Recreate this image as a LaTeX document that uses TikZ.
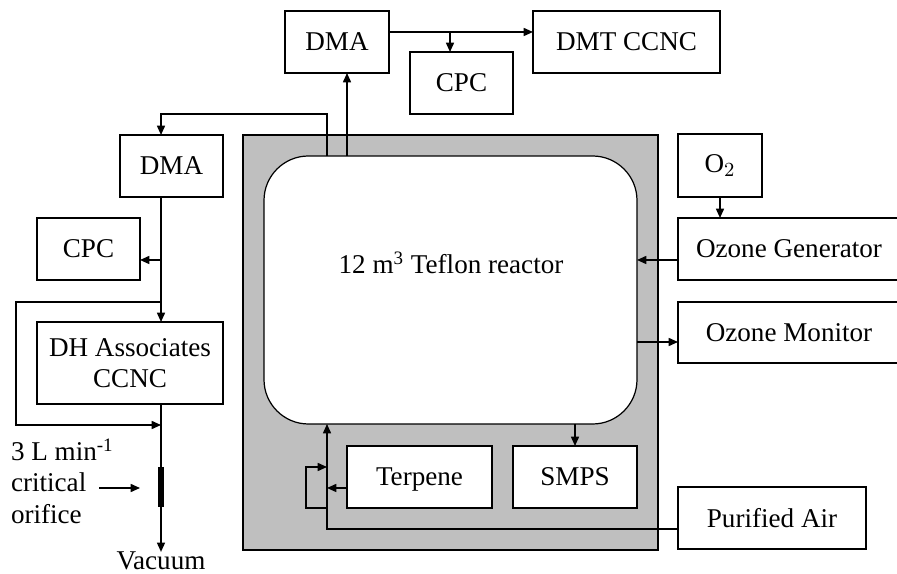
\documentclass[tikz,border=0pt]{standalone}
\usepackage{fontspec}
\setmainfont{Liberation Serif}
\usetikzlibrary{arrows.meta, positioning}
\newlength\px
\setlength\px{0.45pt}

\begin{document}
\begin{tikzpicture}[x=0.45pt, y=-0.45pt,
    every node/.style={font=\fontsize{12.2}{14}\selectfont, inner sep=0pt, outer sep=0pt},
    unit/.style 2 args={draw, fill=white, line width=0.55pt, minimum width=#1*\px, minimum height=#2*\px, align=center},
    flow/.style={-{Triangle[length=4.2pt, width=3.6pt]}, line width=0.7pt}]
    \useasboundingbox (0,0) rectangle (897,574);

    % chamber and reactor
    \node[draw, fill=black!25, line width=1.3pt, minimum width=415*\px, minimum height=415*\px] (chamber) at (450.5,342.5) {};
    \node[draw, fill=white, line width=0.55pt, rounded corners=20pt, minimum width=373*\px, minimum height=268*\px] (reactor) at (450.5,290) {};
    \node (reactortext) at (451,263) {12 m\textsuperscript{3} Teflon reactor};
    \node[unit={145}{62}, text depth=0pt] (terpene) at (419.5,477) {Terpene};
    \node[unit={124}{62}] (smps) at (575,477) {SMPS};

    % sampling train
    \node[unit={104}{62}] (dmatop) at (337,42) {DMA};
    \node[unit={103}{62}] (cpctop) at (461.5,83) {CPC};
    \node[unit={187}{62}] (dmt) at (626.5,42) {DMT CCNC};
    \node[unit={103}{62}] (dmaleft) at (171.5,166) {DMA};
    \node[unit={103}{62}] (cpcleft) at (88.5,249) {CPC};
    \node[unit={186}{82}] (dh) at (130,363) {DH Associates\\CCNC};
    \node[align=left, anchor=west] (orificetext) at (11,481) {3 L min\textsuperscript{-1}\\critical\\orifice};
    \node (vacuum) at (161,561) {Vacuum};

    % supply side
    \node[unit={84}{63}] (otwo) at (720,165.5) {O$_2$};
    \node[unit={222}{62}] (ozgen) at (789,249) {Ozone Generator};
    \node[unit={222}{61}] (ozmon) at (789,332.5) {Ozone Monitor};
    \node[unit={188}{62}] (air) at (772,518) {Purified Air};

    \coordinate (tee) at (450,32);
    \coordinate (up) at (347,0);
    \coordinate (feed) at (327,0);
    \coordinate (spine) at (161,0);
    \coordinate (bend) at (0,114);
    \coordinate (pointer) at (99,488);

    % top lines
    \draw[flow] (dmatop.east |- tee) -- (dmt.west |- tee);
    \draw[flow] (tee) -- (tee |- cpctop.north);
    \draw[flow] (reactor.north -| up) -- (up |- dmatop.south);
    \draw[flow] (reactor.north -| feed) -- (feed |- bend) -| (dmaleft.north -| spine);

    % left lines
    \draw[flow] (dmaleft.south -| spine) -- (dh.north -| spine);
    \draw[flow] (spine |- 0,260) -- (cpcleft.east |- 0,260);
    \draw[flow] (spine |- 0,302) -- (16,302) |- (spine |- 0,425);
    \draw[flow] (dh.south -| spine) -- (vacuum.north);
    \draw[line width=2.4pt] (spine |- 0,467) -- (spine |- 0,507);
    \draw[flow] (pointer) -- ++(41,0);

    % right lines
    \draw[flow] (otwo.south) -- (otwo.south |- ozgen.north);
    \draw[flow] (ozgen.west |- 0,260) -- (reactor.east |- 0,260);
    \draw[flow] (reactor.east |- 0,342) -- (ozmon.west |- 0,342);

    % bottom lines
    \draw[flow] (reactor.south -| smps) -- (smps.north);
    \draw[flow] (terpene.west |- 0,488) -- (feed |- 0,488);
    \draw[flow] (air.west |- 0,529) -| (reactor.south -| feed);
    \draw[flow] (feed |- 0,508) -- (306,508) |- (feed |- 0,467);
\end{tikzpicture}
\end{document}
